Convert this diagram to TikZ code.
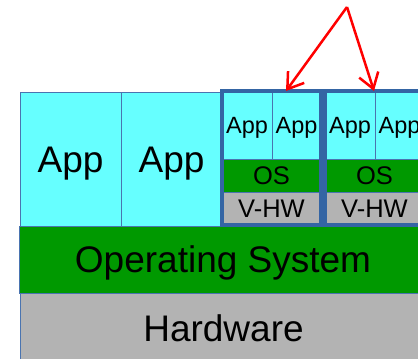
\documentclass[tikz,border=0pt]{standalone}
\usepackage{fontspec}
\setmainfont{Liberation Sans}
\usetikzlibrary{arrows.meta}
\definecolor{appcyan}{HTML}{66FFFF}
\definecolor{osgreen}{HTML}{009900}
\definecolor{hwgray}{HTML}{B3B3B3}
\definecolor{frameblue}{HTML}{3465A4}
\definecolor{edgeblue}{HTML}{4A74B0}
\begin{document}
\begin{tikzpicture}[x=1pt,y=-1pt,
  cell/.style={anchor=north west, inner sep=0pt, outer sep=0pt, draw=edgeblue,
    line width=0.9pt, text depth=0pt},
  big/.style={cell, font=\fontsize{37}{37}\selectfont, text height=26.5pt},
  small/.style={cell, font=\fontsize{23.5}{23.5}\selectfont, text height=16.8pt},
  layerlabel/.style={cell, font=\fontsize{25.5}{25.5}\selectfont, text height=18.3pt},
  app/.style={fill=appcyan},
  os/.style={fill=osgreen},
  hw/.style={fill=hwgray},
  vmframe/.style={draw=frameblue, line width=3.5pt},
  pointer/.style={draw=red, line width=2.5pt,
    -{Straight Barb[length=15pt,width=20pt,line width=2.5pt]}}
]
\useasboundingbox (0,0) rectangle (418,359);
\clip (0,0) rectangle (418,359);

% host stack
\node[big, hw, minimum width=407pt, minimum height=70pt] (hw) at (20,293) {Hardware};
\node[big, os, minimum width=408pt, minimum height=67pt] (hostos) at (19,226) {Operating System};
\node[big, app, minimum width=101pt, minimum height=134pt] (app1) at (20,92) {App};
\node[big, app, minimum width=101pt, minimum height=134pt] (app2) at (121,92) {App};

% virtual machines
\foreach \n/\x in {1/222, 2/325} {
  \node[small, app, minimum width=50pt, minimum height=68pt] (vm\n a) at (\x,91) {App};
  \node[small, app, minimum width=49pt, minimum height=68pt] (vm\n b) at (\x+50,91) {App};
  \node[layerlabel, os, minimum width=99pt, minimum height=33pt] (vm\n os) at (\x,159) {OS};
  \node[layerlabel, hw, minimum width=99pt, minimum height=33pt] (vm\n hw) at (\x,192) {V-HW};
  \draw[vmframe] (vm\n a.north west) rectangle (vm\n hw.south east);
}

% pointers
\coordinate (apex) at (347,7);
\coordinate (tip1) at (286,91);
\coordinate (tip2) at (374,91);
\draw[pointer] (apex) -- (tip1);
\draw[pointer] (apex) -- (tip2);
\end{tikzpicture}
\end{document}
